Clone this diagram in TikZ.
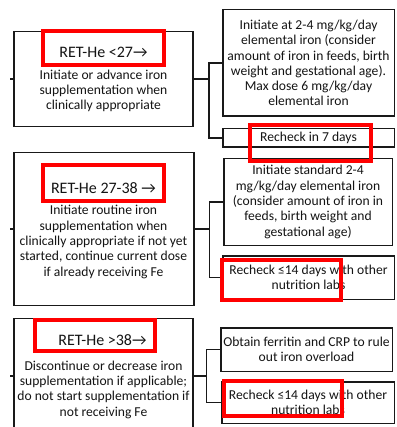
\documentclass[tikz,border=0pt]{standalone}
\usepackage{fontspec}
\setmainfont{Carlito}
\usetikzlibrary{positioning}

\begin{document}
\begin{tikzpicture}[x=1pt,y=-1pt,
  box/.style={draw=black!90,line width=1.6pt,align=center,inner sep=0pt,
    text=black!92,font=\fontsize{13.6}{15.3}\selectfont},
  txt/.style={align=center,inner sep=0pt,text=black!92,font=\fontsize{13.6}{15.3}\selectfont},
  ttl/.style={inner sep=0pt,text=black!92,font=\fontsize{16}{18}\selectfont},
  hilite/.style={draw=red,line width=3.6pt,inner sep=0pt},
  link/.style={draw=black!90,line width=1.6pt}]
\clip (0,0) rectangle (396,427);
\fill[white] (0,0) rectangle (396,427);
% left column
\node[box,minimum width=179pt,minimum height=95pt] (lb1) at (103.3,79) {};
\node[box,minimum width=180pt,minimum height=153pt] (lb2) at (103.8,229) {};
\node[box,minimum width=179pt,minimum height=115pt] (lb3) at (103.3,376) {};
\node[ttl] (t1) at (103.5,52) {RET-He <27→};
\node[ttl] (t2) at (103.5,188) {RET-He 27-38 →};
\node[ttl] (t3) at (102.5,340) {RET-He >38→};
\node[txt] (b1) at (103.5,91) {Initiate or advance iron\\supplementation when\\clinically appropriate};
\node[txt] (b2) at (103.5,242) {Initiate routine iron\\supplementation when\\clinically appropriate if not yet\\started, continue current dose\\if already receiving Fe};
\node[txt] (b3) at (103.5,389.5) {Discontinue or decrease iron\\supplementation if applicable;\\do not start supplementation if\\not receiving Fe};
% right column
\node[box,minimum width=171.6pt,minimum height=106.6pt] (rA) at (308.5,63) {Initiate at 2-4 mg/kg/day\\elemental iron (consider\\amount of iron in feeds, birth\\weight and gestational age).\\Max dose 6 mg/kg/day\\elemental iron};
\node[box,minimum width=171.6pt,minimum height=18.6pt] (rB) at (308.5,138) {Recheck in 7 days};
\node[box,minimum width=168.6pt,minimum height=86.6pt] (rC) at (308,202) {Initiate standard 2-4\\mg/kg/day elemental iron\\(consider amount of iron in\\feeds, birth weight and\\gestational age)};
\node[box,minimum width=171.6pt,minimum height=43.6pt] (rD) at (308.5,277.5) {Recheck ≤14 days with other\\nutrition labs};
\node[box,minimum width=171.6pt,minimum height=43.6pt] (rE) at (306.5,349.5) {Obtain ferritin and CRP to rule\\out iron overload};
\node[box,minimum width=172.6pt,minimum height=41.6pt] (rF) at (308,402.5) {Recheck ≤14 days with other\\nutrition labs};
% connectors
\draw[link] (lb1.west) -- ++(-3,0) coordinate (s1);
\draw[link] (lb2.west) -- ++(-3,0) coordinate (s2);
\draw[link] (lb3.west) -- ++(-3,0) coordinate (s3);
\draw[link] (lb1.east) -- ++(15.5,0) coordinate (j1);
\draw[link] (rA.west) -| (j1) |- (rB.west);
\draw[link] (lb2.east) -- ++(15,0) coordinate (j2);
\draw[link] (rC.west) -| (j2) |- (rD.west);
\draw[link] (lb3.east) -- ++(13,0) coordinate (j3);
\draw[link] (rE.west) -| (j3) |- (rF.west);
% red highlights
\node[hilite,minimum width=121.5pt,minimum height=34.5pt] (h1) at (103.5,48) {};
\node[hilite,minimum width=121.5pt,minimum height=36.5pt] (h2) at (103.5,183) {};
\node[hilite,minimum width=120.5pt,minimum height=31.5pt] (h3) at (95,335.5) {};
\node[hilite,minimum width=121.5pt,minimum height=36.5pt] (hB) at (310.5,143) {};
\node[hilite,minimum width=119.5pt,minimum height=40.5pt] (hD) at (281.5,280) {};
\node[hilite,minimum width=118.5pt,minimum height=35.5pt] (hF) at (283,398.5) {};
\end{tikzpicture}
\end{document}
